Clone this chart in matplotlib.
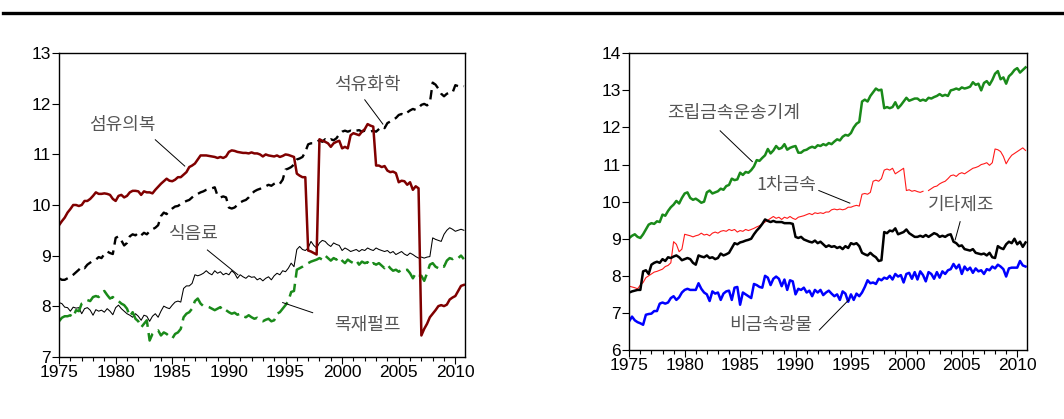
import numpy as np
import matplotlib
matplotlib.use("Agg")
import matplotlib.pyplot as plt
from matplotlib.lines import Line2D

plt.rcParams['font.family'] = ['Liberation Sans', 'DejaVu Sans']

# quarterly observations 1975Q1 - 2010Q4
quarters = 1975 + np.arange(144) / 4.0

# ---- left panel (log levels) ----
textile = [  # 섬유의복
    9.60, 9.68, 9.75, 9.85, 9.92, 10.00, 10.00, 9.98, 10.00, 10.08, 10.08, 10.12,
    10.18, 10.25, 10.22, 10.22, 10.23, 10.22, 10.20, 10.12, 10.08, 10.18, 10.20, 10.15,
    10.18, 10.25, 10.28, 10.28, 10.27, 10.20, 10.27, 10.25, 10.25, 10.23, 10.30, 10.36,
    10.42, 10.47, 10.52, 10.48, 10.47, 10.50, 10.55, 10.55, 10.60, 10.65, 10.75, 10.78,
    10.82, 10.90, 10.98, 10.98, 10.98, 10.97, 10.96, 10.95, 10.93, 10.95, 10.93, 10.96,
    11.05, 11.08, 11.07, 11.05, 11.04, 11.03, 11.03, 11.02, 11.04, 11.02, 11.02, 11.00,
    10.96, 11.00, 10.98, 10.97, 10.96, 10.98, 10.95, 10.97, 11.00, 10.99, 10.97, 10.95,
    10.62, 10.58, 10.55, 10.55, 9.10, 9.08, 9.05, 9.02, 11.30, 11.27, 11.25, 11.22,
    11.15, 11.22, 11.25, 11.27, 11.12, 11.15, 11.12, 11.38, 11.42, 11.40, 11.38, 11.45,
    11.50, 11.60, 11.57, 11.55, 10.78, 10.78, 10.75, 10.77, 10.68, 10.65, 10.66, 10.63,
    10.45, 10.48, 10.47, 10.40, 10.45, 10.30, 10.37, 10.33, 7.42, 7.55, 7.65, 7.78,
    7.85, 7.92, 8.00, 8.02, 8.00, 8.03, 8.13, 8.17, 8.20, 8.30, 8.40, 8.42]

petrochem = [  # 석유화학
    8.55, 8.52, 8.52, 8.55, 8.58, 8.62, 8.67, 8.72, 8.78, 8.75, 8.82, 8.86,
    8.90, 8.92, 8.97, 8.95, 9.03, 9.08, 9.05, 9.03, 9.35, 9.38, 9.30, 9.20,
    9.25, 9.38, 9.42, 9.40, 9.45, 9.40, 9.45, 9.42, 9.48, 9.52, 9.55, 9.60,
    9.78, 9.85, 9.82, 9.88, 9.93, 9.97, 9.98, 10.02, 10.05, 10.08, 10.10, 10.15,
    10.20, 10.22, 10.25, 10.27, 10.30, 10.32, 10.33, 10.35, 10.18, 10.15, 10.17, 10.15,
    9.95, 9.93, 9.95, 10.00, 10.05, 10.08, 10.10, 10.15, 10.22, 10.27, 10.30, 10.32,
    10.35, 10.37, 10.40, 10.38, 10.42, 10.45, 10.42, 10.50, 10.70, 10.72, 10.75, 10.80,
    10.90, 10.92, 10.95, 11.05, 11.20, 11.22, 11.22, 11.25, 11.28, 11.25, 11.30, 11.27,
    11.30, 11.28, 11.32, 11.40, 11.45, 11.47, 11.45, 11.47, 11.45, 11.47, 11.48, 11.45,
    11.47, 11.45, 11.45, 11.47, 11.45, 11.50, 11.55, 11.52, 11.62, 11.65, 11.70, 11.72,
    11.78, 11.80, 11.78, 11.83, 11.87, 11.90, 11.88, 11.92, 11.98, 12.00, 11.97, 12.02,
    12.42, 12.38, 12.30, 12.20, 12.15, 12.20, 12.22, 12.22, 12.37, 12.35, 12.37, 12.35]

food = [  # 식음료
    8.07, 8.05, 7.98, 7.97, 7.90, 7.98, 7.96, 7.97, 7.85, 7.95, 7.97, 7.92,
    7.82, 7.93, 7.90, 7.92, 7.88, 7.95, 7.90, 7.83, 7.97, 8.02, 7.95, 7.90,
    7.85, 7.82, 7.78, 7.85, 7.80, 7.72, 7.82, 7.80, 7.70, 7.80, 7.85, 7.78,
    7.90, 8.00, 7.97, 7.95, 8.02, 8.08, 8.10, 8.08, 8.35, 8.40, 8.40, 8.45,
    8.62, 8.60, 8.62, 8.65, 8.70, 8.65, 8.62, 8.70, 8.65, 8.68, 8.62, 8.65,
    8.62, 8.70, 8.65, 8.55, 8.62, 8.58, 8.55, 8.60, 8.57, 8.58, 8.52, 8.55,
    8.50, 8.55, 8.58, 8.52, 8.60, 8.65, 8.62, 8.70, 8.68, 8.75, 8.85, 8.78,
    9.12, 9.18, 9.12, 9.10, 9.15, 9.28, 9.20, 9.15, 9.25, 9.30, 9.28, 9.22,
    9.18, 9.25, 9.22, 9.20, 9.10, 9.15, 9.12, 9.08, 9.10, 9.12, 9.08, 9.12,
    9.10, 9.15, 9.12, 9.10, 9.15, 9.12, 9.10, 9.08, 9.10, 9.05, 9.08, 9.02,
    9.05, 9.08, 9.03, 9.00, 9.05, 9.02, 8.98, 8.95, 8.97, 8.95, 8.97, 8.98,
    9.35, 9.32, 9.30, 9.28, 9.42, 9.50, 9.55, 9.52, 9.48, 9.50, 9.52, 9.50]

wood = [  # 목재펄프
    7.70, 7.77, 7.80, 7.80, 7.82, 7.78, 7.92, 7.90, 8.05, 8.08, 8.12, 8.10,
    8.18, 8.20, 8.18, 8.25, 8.30, 8.22, 8.15, 8.18, 8.12, 8.10, 8.05, 8.02,
    7.95, 7.80, 7.88, 7.75, 7.70, 7.58, 7.65, 7.72, 7.32, 7.45, 7.50, 7.52,
    7.42, 7.48, 7.45, 7.40, 7.36, 7.45, 7.48, 7.55, 7.78, 7.85, 7.88, 7.95,
    8.10, 8.15, 8.05, 8.00, 8.00, 7.98, 7.95, 7.92, 7.95, 7.98, 7.90, 7.92,
    7.88, 7.85, 7.87, 7.83, 7.85, 7.80, 7.78, 7.82, 7.78, 7.75, 7.77, 7.72,
    7.70, 7.73, 7.75, 7.70, 7.72, 7.85, 7.88, 7.95, 8.02, 8.10, 8.28, 8.30,
    8.72, 8.75, 8.78, 8.82, 8.85, 8.88, 8.90, 8.92, 8.95, 8.92, 9.00, 8.95,
    8.90, 8.95, 8.92, 8.97, 8.90, 8.85, 8.92, 8.88, 8.85, 8.90, 8.82, 8.88,
    8.85, 8.87, 8.80, 8.85, 8.82, 8.85, 8.80, 8.75, 8.82, 8.75, 8.70, 8.72,
    8.68, 8.72, 8.70, 8.72, 8.65, 8.55, 8.65, 8.60, 8.60, 8.50, 8.65, 8.82,
    8.85, 8.78, 8.75, 8.80, 8.78, 8.90, 8.95, 8.93, 8.97, 8.95, 9.00, 8.93]

# ---- right panel ----
machinery = [  # 조립금속운송기계
    9.02, 9.08, 9.12, 9.05, 9.02, 9.12, 9.25, 9.38, 9.42, 9.40, 9.47, 9.45,
    9.65, 9.62, 9.75, 9.85, 9.92, 10.02, 9.95, 10.10, 10.22, 10.25, 10.10, 10.05,
    10.08, 10.03, 9.97, 10.00, 10.25, 10.30, 10.22, 10.25, 10.28, 10.35, 10.32, 10.42,
    10.45, 10.62, 10.58, 10.60, 10.78, 10.72, 10.80, 10.78, 10.85, 10.95, 11.12, 11.10,
    11.18, 11.25, 11.42, 11.30, 11.38, 11.50, 11.42, 11.45, 11.55, 11.40, 11.45, 11.48,
    11.50, 11.32, 11.32, 11.38, 11.40, 11.45, 11.48, 11.45, 11.52, 11.50, 11.55, 11.52,
    11.58, 11.55, 11.62, 11.68, 11.65, 11.75, 11.80, 11.78, 11.85, 12.00, 12.10, 12.15,
    12.70, 12.75, 12.70, 12.85, 12.95, 13.05, 13.00, 13.02, 12.52, 12.55, 12.52, 12.55,
    12.68, 12.52, 12.60, 12.70, 12.80, 12.72, 12.75, 12.78, 12.78, 12.72, 12.75, 12.72,
    12.80, 12.78, 12.82, 12.85, 12.90, 12.85, 12.88, 12.85, 13.00, 13.02, 13.05, 13.02,
    13.08, 13.05, 13.07, 13.10, 13.22, 13.15, 13.18, 13.00, 13.20, 13.25, 13.15, 13.28,
    13.45, 13.52, 13.30, 13.35, 13.18, 13.38, 13.45, 13.55, 13.60, 13.48, 13.55, 13.62]

metal = [  # 1차금속
    7.72, 7.70, 7.68, 7.65, 7.75, 7.82, 7.95, 8.00, 8.05, 8.10, 8.12, 8.15,
    8.18, 8.25, 8.28, 8.35, 8.92, 8.85, 8.65, 8.72, 9.12, 9.10, 9.08, 9.05,
    9.08, 9.10, 9.15, 9.10, 9.12, 9.08, 9.15, 9.18, 9.15, 9.20, 9.22, 9.20,
    9.25, 9.22, 9.25, 9.18, 9.22, 9.20, 9.25, 9.22, 9.25, 9.28, 9.32, 9.35,
    9.40, 9.45, 9.50, 9.55, 9.60, 9.55, 9.58, 9.52, 9.58, 9.55, 9.60, 9.55,
    9.52, 9.58, 9.60, 9.62, 9.65, 9.68, 9.65, 9.70, 9.68, 9.70, 9.68, 9.72,
    9.72, 9.78, 9.80, 9.78, 9.80, 9.78, 9.80, 9.85, 9.85, 9.88, 9.90, 9.88,
    10.20, 10.22, 10.20, 10.25, 10.55, 10.58, 10.55, 10.62, 10.85, 10.88, 10.85, 10.90,
    10.75, 10.80, 10.85, 10.90, 10.30, 10.32, 10.28, 10.30, 10.27, 10.25, 10.28, np.nan,
    10.30, 10.35, 10.40, 10.42, 10.48, 10.52, 10.55, 10.62, 10.70, 10.72, 10.68, 10.75,
    10.78, 10.75, 10.80, 10.85, 10.90, 10.92, 10.95, 11.00, 11.02, 11.05, 10.98, 11.05,
    11.42, 11.40, 11.35, 11.22, 11.02, 11.15, 11.25, 11.30, 11.35, 11.40, 11.45, 11.38]

other = [  # 기타제조
    7.55, 7.58, 7.60, 7.62, 7.62, 8.12, 8.15, 8.05, 8.30, 8.35, 8.38, 8.35,
    8.45, 8.40, 8.50, 8.48, 8.52, 8.55, 8.50, 8.42, 8.45, 8.48, 8.45, 8.35,
    8.30, 8.55, 8.52, 8.50, 8.55, 8.48, 8.50, 8.45, 8.48, 8.60, 8.55, 8.58,
    8.62, 8.75, 8.88, 8.85, 8.90, 8.92, 8.95, 8.97, 9.00, 9.12, 9.22, 9.30,
    9.40, 9.52, 9.48, 9.45, 9.48, 9.45, 9.45, 9.45, 9.42, 9.42, 9.42, 9.40,
    9.05, 9.02, 9.05, 8.98, 8.95, 8.92, 8.90, 8.95, 8.88, 8.92, 8.85, 8.78,
    8.82, 8.78, 8.80, 8.75, 8.78, 8.72, 8.80, 8.75, 8.88, 8.85, 8.88, 8.80,
    8.62, 8.58, 8.55, 8.62, 8.55, 8.50, 8.40, 8.42, 9.18, 9.15, 9.22, 9.20,
    9.28, 9.12, 9.15, 9.18, 9.25, 9.15, 9.10, 9.05, 9.05, 9.08, 9.05, 9.10,
    9.05, 9.10, 9.15, 9.12, 9.05, 9.08, 9.05, 9.10, 9.12, 8.92, 8.88, 8.80,
    8.82, 8.72, 8.70, 8.68, 8.72, 8.62, 8.60, 8.58, 8.60, 8.55, 8.62, 8.50,
    8.48, 8.80, 8.75, 8.72, 8.85, 8.92, 8.88, 9.00, 8.85, 8.92, 8.78, 8.90]

mineral = [  # 비금속광물
    6.78, 6.90, 6.80, 6.75, 6.72, 6.68, 6.95, 6.97, 6.98, 7.05, 7.05, 7.25,
    7.28, 7.25, 7.28, 7.40, 7.45, 7.35, 7.42, 7.55, 7.62, 7.65, 7.62, 7.62,
    7.62, 7.80, 7.65, 7.55, 7.50, 7.32, 7.58, 7.52, 7.55, 7.35, 7.52, 7.58,
    7.60, 7.35, 7.68, 7.70, 7.22, 7.55, 7.50, 7.45, 7.40, 7.78, 7.75, 7.70,
    7.68, 8.00, 7.95, 7.75, 7.92, 7.98, 7.92, 7.72, 7.90, 7.62, 7.88, 7.85,
    7.50, 7.65, 7.62, 7.68, 7.55, 7.60, 7.45, 7.62, 7.55, 7.62, 7.48, 7.55,
    7.60, 7.52, 7.45, 7.50, 7.35, 7.58, 7.52, 7.30, 7.50, 7.35, 7.52, 7.45,
    7.55, 7.70, 7.88, 7.80, 7.82, 7.78, 7.92, 7.88, 7.95, 7.92, 8.00, 7.90,
    8.05, 7.98, 8.02, 7.82, 8.05, 8.08, 7.92, 8.10, 7.90, 8.12, 8.02, 7.85,
    8.10, 8.05, 7.92, 8.10, 7.95, 8.12, 8.05, 8.15, 8.18, 8.32, 8.20, 8.30,
    8.05, 8.25, 8.15, 8.22, 8.08, 8.20, 8.12, 8.15, 8.05, 8.18, 8.15, 8.25,
    8.20, 8.30, 8.25, 8.18, 7.98, 8.20, 8.22, 8.22, 8.22, 8.40, 8.28, 8.25]

x_ticks = [1975, 1980, 1985, 1990, 1995, 2000, 2005, 2010]
kfont = ['Noto Sans CJK KR', 'DejaVu Sans']
label_color = '#555555'

fig = plt.figure(figsize=(10.64, 4.19), dpi=100)

# thick rule at the top of the page
fig.add_artist(Line2D([0.003, 1.0], [0.969, 0.969], color='black', lw=2.4,
                      transform=fig.transFigure))


def style_axes(ax, ylim, yticks):
    ax.set_xlim(1975, 2010.85)
    ax.set_ylim(*ylim)
    ax.set_yticks(yticks)
    ax.set_xticks(x_ticks)
    ax.set_xticks(range(1975, 2011), minor=True)
    ax.tick_params(axis='both', which='major', direction='out', length=5,
                   width=0.8, labelsize=12.5, pad=1)
    ax.tick_params(axis='x', which='minor', direction='out', length=3, width=0.8)
    for s in ax.spines.values():
        s.set_linewidth(1.0)


def note(ax, text, txy, line_from, line_to):
    ax.text(txy[0], txy[1], text, family=kfont, fontsize=13,
            fontweight='light', color=label_color, ha='center', va='center')
    ax.plot([line_from[0], line_to[0]], [line_from[1], line_to[1]],
            color='black', lw=0.7)


# left panel
ax1 = fig.add_axes([0.0555, 0.1487, 0.3815, 0.7241])
ax1.plot(quarters, food, color='black', lw=0.75)
ax1.plot(quarters, wood, color='#1a8a1a', lw=1.8, dashes=(6, 2.5))
ax1.plot(quarters, petrochem, color='black', lw=1.7, dashes=(4, 2.5))
ax1.plot(quarters, textile, color='#800000', lw=1.8)
style_axes(ax1, (7, 13), range(7, 14))

note(ax1, '섬유의복', (1980.6, 11.58), (1983.5, 11.29), (1986.1, 10.77))
note(ax1, '석유화학', (2002.2, 12.37), (2002.0, 12.08), (2003.6, 11.60))
note(ax1, '식음료', (1986.9, 9.42), (1988.1, 9.11), (1990.8, 8.62))
note(ax1, '목재펄프', (2002.2, 7.63), (1997.4, 7.87), (1994.75, 8.07))

# right panel
ax2 = fig.add_axes([0.5914, 0.1647, 0.3735, 0.7081])
ax2.plot(quarters, metal, color='#ff1a1a', lw=0.8)
ax2.plot(quarters, mineral, color='#0000ff', lw=1.8)
ax2.plot(quarters, other, color='black', lw=1.8)
ax2.plot(quarters, machinery, color='#1a8a1a', lw=1.8)
style_axes(ax2, (6, 14), range(6, 15))

note(ax2, '조립금속운송기계', (1984.4, 12.39), (1983.2, 11.91), (1986.1, 11.08))
note(ax2, '1차금속', (1989.2, 10.45), (1992.1, 10.30), (1994.9, 9.96))
note(ax2, '기타제조', (2004.9, 9.91), (2004.85, 9.46), (2004.4, 8.97))
note(ax2, '비금속광물', (1987.8, 6.67), (1992.15, 6.54), (1994.8, 7.35))

fig.savefig('out.png', dpi=100)
